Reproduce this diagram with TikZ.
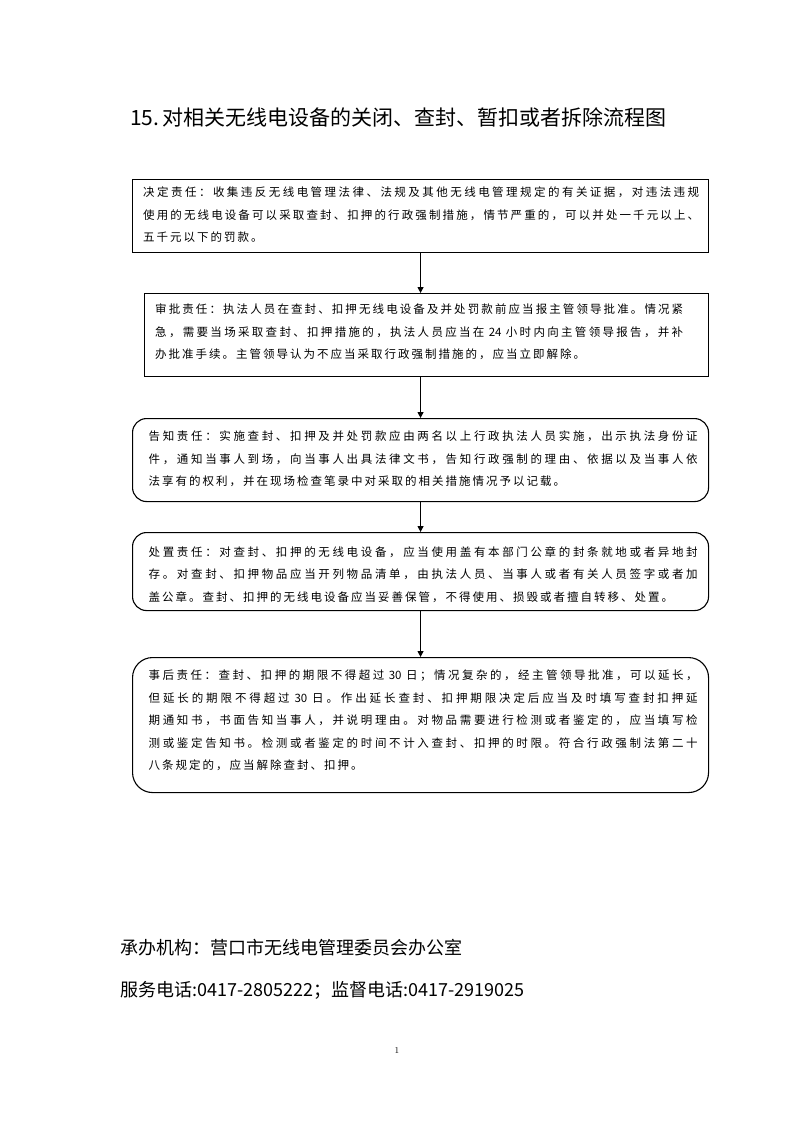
\documentclass[tikz,border=0pt]{standalone}
\usepackage{fontspec}
\usetikzlibrary{arrows.meta,calc}
\newfontfamily\cjk{Noto Sans CJK SC}
% spread the characters of one line evenly, with stretchable glue between them
\def\sp#1{\spB#1\relax}
\def\spB#1{#1\spA}
\def\spA#1{\ifx\relax#1\else\nobreak\hskip 2pt plus 3pt\relax#1\expandafter\spA\fi}
\def\ntf{\hspace{2pt}24\hspace{2pt}}
\def\nth{\hspace{2pt}30\hspace{2pt}}
\begin{document}
\begin{tikzpicture}[x=1pt,y=-1pt,
  box/.style={draw, line width=1.1pt, inner sep=0, anchor=north west},
  rbox/.style={box, rounded corners=14pt},
  txt/.style={inner sep=0, anchor=north west, align=justify, font=\cjk\fontsize{11.5}{22.5}\selectfont},
  arr/.style={line width=0.9pt, -{Triangle[length=6pt,width=6pt]}}]
\fill[white] (0,0) rectangle (793,1122);
\useasboundingbox (0,0) rectangle (793,1122);

\node[anchor=west, inner sep=0, font=\cjk\fontsize{21}{25}\selectfont] (title) at (130,117) {15.\,对相关无线电设备的关闭、查封、暂扣或者拆除流程图};

\node[box, minimum width=576, minimum height=73] (b1) at (132,179) {};
\node[txt, text width=556] (t1) at (143,187) {\sp{决定责任：收集违反无线电管理法律、法规及其他无线电管理规定的有关证据，对违法违规}\linebreak
\sp{使用的无线电设备可以采取查封、扣押的行政强制措施，情节严重的，可以并处一千元以上、}\linebreak
\sp{五千元以下的罚款。}};

\node[box, minimum width=564, minimum height=83] (b2) at (144,293) {};
\node[txt, text width=528] (t2) at (155,304) {\sp{审批责任：执法人员在查封、扣押无线电设备及并处罚款前应当报主管领导批准。情况紧}\linebreak
\sp{急，需要当场采取查封、扣押措施的，执法人员应当在\ntf 小时内向主管领导报告，并补}\linebreak
\sp{办批准手续。主管领导认为不应当采取行政强制措施的，应当立即解除。}};

\node[rbox, minimum width=576, minimum height=83] (b3) at (132,418) {};
\node[txt, text width=549] (t3) at (148.5,431) {\sp{告知责任：实施查封、扣押及并处罚款应由两名以上行政执法人员实施，出示执法身份证}\linebreak
\sp{件，通知当事人到场，向当事人出具法律文书，告知行政强制的理由、依据以及当事人依}\linebreak
\sp{法享有的权利，并在现场检查笔录中对采取的相关措施情况予以记载。}};

\node[rbox, minimum width=576, minimum height=78] (b4) at (132,532) {};
\node[txt, text width=549] (t4) at (148.5,546) {\sp{处置责任：对查封、扣押的无线电设备，应当使用盖有本部门公章的封条就地或者异地封}\linebreak
\sp{存。对查封、扣押物品应当开列物品清单，由执法人员、当事人或者有关人员签字或者加}\linebreak
\sp{盖公章。查封、扣押的无线电设备应当妥善保管，不得使用、损毁或者擅自转移、处置。}};

\node[rbox, rounded corners=20pt, minimum width=576, minimum height=135] (b5) at (132,657) {};
\node[txt, text width=549] (t5) at (148.5,670) {\sp{事后责任：查封、扣押的期限不得超过\nth 日；情况复杂的，经主管领导批准，可以延长，}\linebreak
\sp{但延长的期限不得超过\nth 日。作出延长查封、扣押期限决定后应当及时填写查封扣押延}\linebreak
\sp{期通知书，书面告知当事人，并说明理由。对物品需要进行检测或者鉴定的，应当填写检}\linebreak
\sp{测或鉴定告知书。检测或者鉴定的时间不计入查封、扣押的时限。符合行政强制法第二十}\linebreak
\sp{八条规定的，应当解除查封、扣押。}};

\draw[arr] (b1.south) -- (b1.south |- b2.north);
\draw[arr] (b3.north |- b2.south) -- (b3.north);
\draw[arr] (b3.south) -- (b4.north);
\draw[arr] (b4.south) -- (b5.north);

\node[anchor=west, inner sep=0, font=\cjk\fontsize{18}{22}\selectfont] (org) at (120,948) {承办机构：营口市无线电管理委员会办公室};
\node[anchor=west, inner sep=0, font=\cjk\fontsize{18}{22}\selectfont] (tel) at (120,990) {服务电话:0417-2805222；监督电话:0417-2919025};
\node[inner sep=0, font=\fontsize{9}{10}\selectfont] (pg) at (397,1050) {1};
\end{tikzpicture}
\end{document}
